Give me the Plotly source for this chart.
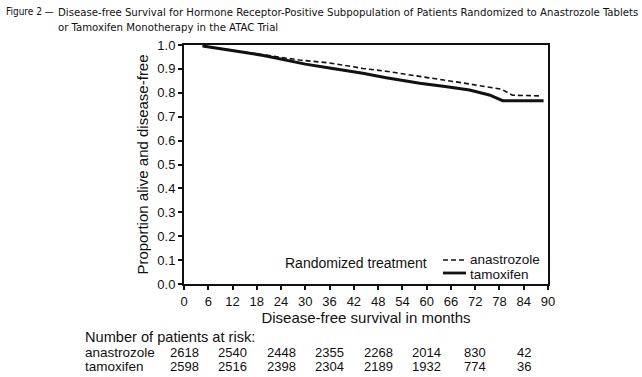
import plotly.graph_objects as go

# ---- data ----
tam_months = [4.6, 10, 15.5, 20, 30, 36, 44.2, 50, 58.3, 65, 70.6, 75.5, 78.8, 88.9]
tam_surv = [0.996, 0.983, 0.968, 0.955, 0.920, 0.904, 0.882, 0.863, 0.840, 0.825, 0.812, 0.791, 0.767, 0.767]

ana_months = [4.6, 15.5, 20, 28.6, 36, 44.2, 50, 59.5, 65, 70.6, 75.5, 78.5, 81.2, 88.0]
ana_surv = [0.996, 0.970, 0.960, 0.937, 0.925, 0.902, 0.890, 0.867, 0.853, 0.837, 0.823, 0.815, 0.790, 0.787]

x_ticks = list(range(0, 91, 6))
y_ticks = [round(i * 0.1, 1) for i in range(11)]

risk_months = [0, 12, 24, 36, 48, 60, 72, 84]
risk_anastrozole = [2618, 2540, 2448, 2355, 2268, 2014, 830, 42]
risk_tamoxifen = [2598, 2516, 2398, 2304, 2189, 1932, 774, 36]

FONT = "Liberation Sans, Arial, sans-serif"
NARROW = "DejaVu Sans Condensed, Liberation Sans Narrow, sans-serif"
INK = "#111111"

L, R, T, B = 184, 94, 45, 93
W, H = 642, 377
pw, ph = W - L - R, H - T - B


def px_to_paper_x(px):
    return (px - L) / pw


def px_to_paper_y(py):
    return (H - B - py) / ph


fig = go.Figure()
fig.add_trace(go.Scatter(x=ana_months, y=ana_surv, mode="lines", name="anastrozole",
                         showlegend=False,
                         line=dict(color=INK, width=1.6, dash="5px,3px")))
fig.add_trace(go.Scatter(x=tam_months, y=tam_surv, mode="lines", name="tamoxifen",
                         showlegend=False,
                         line=dict(color=INK, width=3)))

annotations = [
    dict(text="Figure 2 —", x=px_to_paper_x(4), y=px_to_paper_y(4), xref="paper", yref="paper",
         showarrow=False, xanchor="left", yanchor="top", font=dict(family=NARROW, size=10, color=INK)),
    dict(text="Disease-free Survival for Hormone Receptor-Positive Subpopulation of Patients Randomized to Anastrozole Tablets<br>or Tamoxifen Monotherapy in the ATAC Trial",
         x=px_to_paper_x(56), y=px_to_paper_y(4), xref="paper", yref="paper", showarrow=False,
         align="left", xanchor="left", yanchor="top", font=dict(family=NARROW, size=11.3, color=INK)),
    # legend
    dict(text="Randomized treatment", x=px_to_paper_x(283), y=px_to_paper_y(263), xref="paper",
         yref="paper", showarrow=False, xanchor="left", yanchor="middle", font=dict(family=FONT, size=14, color=INK)),
    dict(text="anastrozole", x=px_to_paper_x(468), y=px_to_paper_y(259.5), xref="paper",
         yref="paper", showarrow=False, xanchor="left", yanchor="middle", font=dict(family=FONT, size=13.5, color=INK)),
    dict(text="tamoxifen", x=px_to_paper_x(468), y=px_to_paper_y(274.5), xref="paper",
         yref="paper", showarrow=False, xanchor="left", yanchor="middle", font=dict(family=FONT, size=13.5, color=INK)),
    # risk table
    dict(text="Number of patients at risk:", x=px_to_paper_x(83), y=px_to_paper_y(337), xref="paper",
         yref="paper", showarrow=False, xanchor="left", yanchor="middle", font=dict(family=FONT, size=14.6, color=INK)),
    dict(text="anastrozole", x=px_to_paper_x(83), y=px_to_paper_y(352.5), xref="paper",
         yref="paper", showarrow=False, xanchor="left", yanchor="middle", font=dict(family=FONT, size=13.5, color=INK)),
    dict(text="tamoxifen", x=px_to_paper_x(83), y=px_to_paper_y(366), xref="paper",
         yref="paper", showarrow=False, xanchor="left", yanchor="middle", font=dict(family=FONT, size=13.5, color=INK)),
]
for m, a, t in zip(risk_months, risk_anastrozole, risk_tamoxifen):
    annotations.append(dict(text=str(a), x=m, y=px_to_paper_y(352.5), xref="x", yref="paper",
                            showarrow=False, xanchor="center", yanchor="middle",
                            font=dict(family=FONT, size=13, color=INK)))
    annotations.append(dict(text=str(t), x=m, y=px_to_paper_y(366), xref="x", yref="paper",
                            showarrow=False, xanchor="center", yanchor="middle",
                            font=dict(family=FONT, size=13, color=INK)))

# legend keys
shapes = [
    dict(type="line", xref="paper", yref="paper", x0=px_to_paper_x(443), x1=px_to_paper_x(466),
         y0=px_to_paper_y(260), y1=px_to_paper_y(260), line=dict(color=INK, width=1.6, dash="5px,3px")),
    dict(type="line", xref="paper", yref="paper", x0=px_to_paper_x(443), x1=px_to_paper_x(466),
         y0=px_to_paper_y(273), y1=px_to_paper_y(273), line=dict(color=INK, width=2.8)),
]

fig.update_layout(
    width=W, height=H,
    margin=dict(l=L, r=R, t=T, b=B, pad=0),
    paper_bgcolor="white", plot_bgcolor="white",
    font=dict(family=FONT, size=13, color=INK),
    annotations=annotations,
    shapes=shapes,
    showlegend=False,
    xaxis=dict(
        range=[0, 90], tickvals=x_ticks, ticktext=[str(v) for v in x_ticks],
        showline=True, linecolor=INK, linewidth=2, mirror=True,
        ticks="outside", ticklen=4, tickcolor=INK, tickwidth=1.5,
        showgrid=False, zeroline=False, tickfont=dict(size=13),
        title=dict(text="Disease-free survival in months", font=dict(size=15), standoff=5),
    ),
    yaxis=dict(
        range=[0, 1], tickvals=y_ticks, tickformat=".1f",
        showline=True, linecolor=INK, linewidth=2, mirror=True,
        ticks="outside", ticklen=4, tickcolor=INK, tickwidth=1.5,
        showgrid=False, zeroline=False, tickfont=dict(size=13),
        title=dict(text="Proportion alive and disease-free", font=dict(size=15), standoff=5),
    ),
)

fig.write_html("out.html", config={"displayModeBar": False},
               post_script="document.body.style.margin='0';document.body.style.overflow='hidden';")
